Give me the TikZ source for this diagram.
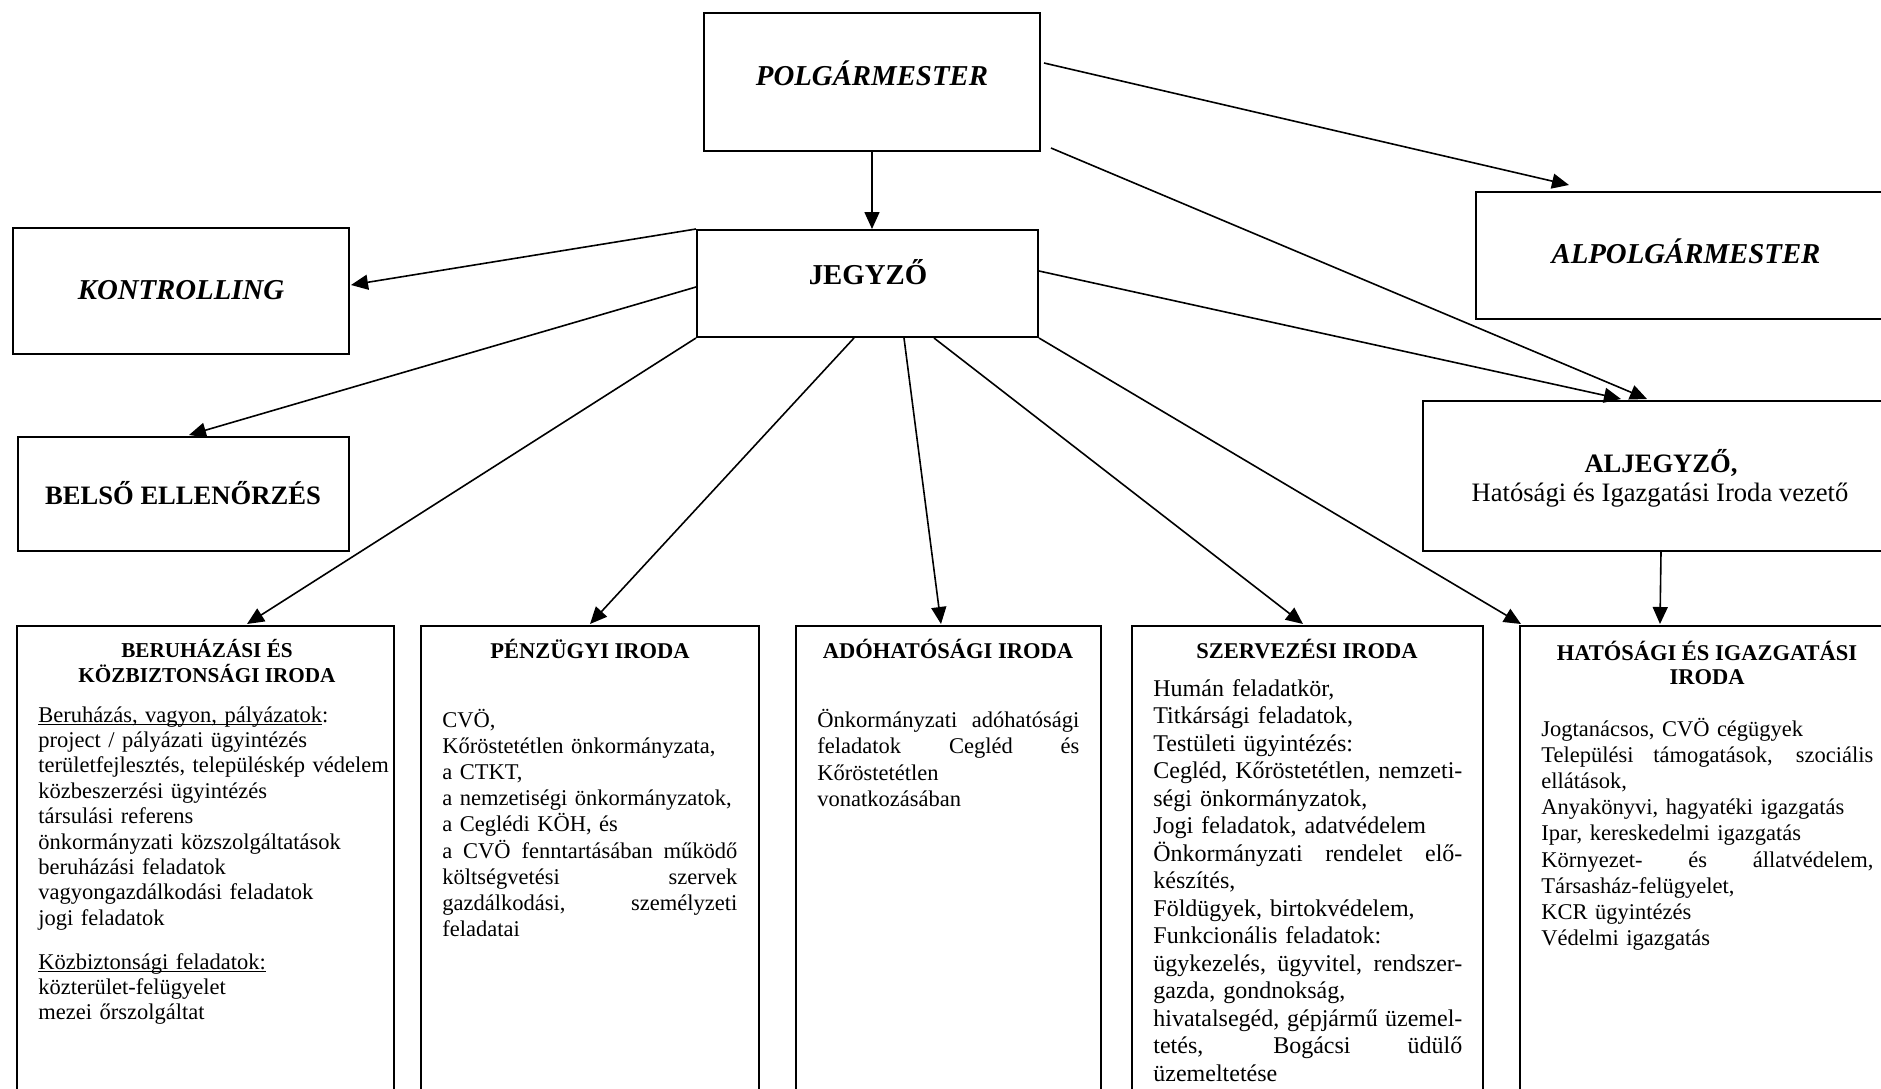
\documentclass[tikz,border=0pt]{standalone}
\usepackage{fontspec}
\setmainfont{Liberation Serif}
\usetikzlibrary{arrows.meta}
\newcommand\jline[2]{\leavevmode\hbox to #1{\spaceskip=0.25em plus 1fil\relax #2}}
\newcommand\myul[1]{\leavevmode\setbox0=\hbox{#1}\rlap{\rule[-1.4pt]{\wd0}{0.55pt}}\box0}
\begin{document}
\begin{tikzpicture}[x=0.5pt,y=-0.5pt,
  box/.style={draw, line width=1pt, inner sep=0pt},
  arr/.style={line width=0.8pt, -{Triangle[length=8.5pt,width=7.5pt]}},
  bigtitle/.style={anchor=base, inner sep=0pt, font=\fontsize{14.4pt}{16pt}\selectfont\bfseries\itshape},
  bigbold/.style={anchor=base, inner sep=0pt, font=\fontsize{14.4pt}{16pt}\selectfont\bfseries},
  midbold/.style={anchor=base, inner sep=0pt, font=\fontsize{13.3pt}{15pt}\selectfont\bfseries},
  midreg/.style={anchor=base, inner sep=0pt, font=\fontsize{13.3pt}{15pt}\selectfont},
  head/.style={anchor=base, inner sep=0pt, font=\fontsize{11.25pt}{13pt}\selectfont\bfseries},
  smallhead/.style={anchor=base, inner sep=0pt, font=\fontsize{10.6pt}{12pt}\selectfont\bfseries},
  body/.style={anchor=base west, inner sep=0pt, align=left}
]
\useasboundingbox (0,0) rectangle (1881,1088);
\fill[white] (0,0) rectangle (1881,1088);
\clip (0,0) rectangle (1881,1088);

% boxes
\node[box, minimum width=168pt, minimum height=69pt] (polg) at (872,82) {};
\node[box, minimum width=170.5pt, minimum height=53.5pt] (jegy) at (867.5,283.5) {};
\node[box, minimum width=168pt, minimum height=63pt] (kontr) at (181,291) {};
\node[box, minimum width=165.5pt, minimum height=57pt] (bels) at (183.5,494) {};
\node[box, minimum width=209.5pt, minimum height=63.5pt] (alpolg) at (1685.5,255.5) {};
\node[box, minimum width=236pt, minimum height=75pt] (aljegy) at (1659,476) {};
\node[box, minimum width=188.5pt, minimum height=237pt] (b1) at (205.5,863) {};
\node[box, minimum width=169pt, minimum height=237pt] (b2) at (590,863) {};
\node[box, minimum width=152.5pt, minimum height=237pt] (b3) at (948.5,863) {};
\node[box, minimum width=175.5pt, minimum height=237pt] (b4) at (1307.5,863) {};
\node[box, minimum width=187.5pt, minimum height=237pt] (b5) at (1707.5,863) {};

% top texts
\node[bigtitle] (tpolg) at (872,85) {POLGÁRMESTER};
\node[bigbold] (tjegy) at (868,284) {JEGYZŐ};
\node[bigtitle] (tkontr) at (181,299) {KONTROLLING};
\node[midbold] (tbels) at (183,504) {BELSŐ ELLENŐRZÉS};
\node[bigtitle] (talpolg) at (1686,263) {ALPOLGÁRMESTER};
\node[midbold] (taljegy) at (1661,472) {ALJEGYZŐ,};
\node[midreg] (taljegy2) at (1660,501) {Hatósági és Igazgatási Iroda vezető};

% bottom headings
\node[smallhead] (h1a) at (207,657) {BERUHÁZÁSI ÉS};
\node[smallhead] (h1b) at (207,682) {KÖZBIZTONSÁGI IRODA};
\node[head] (h2) at (590,658) {PÉNZÜGYI IRODA};
\node[head] (h3) at (948,658) {ADÓHATÓSÁGI IRODA};
\node[head] (h4) at (1307,658) {SZERVEZÉSI IRODA};
\node[head] (h5a) at (1707,660) {HATÓSÁGI ÉS IGAZGATÁSI};
\node[head] (h5b) at (1707,684) {IRODA};

% bodies
\node[body, text width=180pt, font=\fontsize{11.25pt}{12.7pt}\selectfont] (t1a) at (38,722) {%
\myul{Beruházás, vagyon, pályázatok}:\\
project / pályázati ügyintézés\\
területfejlesztés, településkép védelem\\
közbeszerzési ügyintézés\\
társulási referens\\
önkormányzati közszolgáltatások\\
beruházási feladatok\\
vagyongazdálkodási feladatok\\
jogi feladatok};
\node[body, text width=180pt, font=\fontsize{11.25pt}{12.5pt}\selectfont] (t1b) at (38,969) {%
\myul{Közbiztonsági feladatok:}\\
közterület-felügyelet\\
mezei őrszolgáltat};
\node[body, text width=147.5pt, font=\fontsize{11.25pt}{13.1pt}\selectfont] (t2) at (442,727) {%
CVÖ,\\
Kőröstetétlen önkormányzata,\\
a CTKT,\\
a nemzetiségi önkormányzatok,\\
a Ceglédi KÖH, és\\
\jline{147.5pt}{a CVÖ fenntartásában működő}\\
\jline{147.5pt}{költségvetési szervek}\\
\jline{147.5pt}{gazdálkodási, személyzeti}\\
feladatai};
\node[body, text width=131pt, font=\fontsize{11.25pt}{13.3pt}\selectfont] (t3) at (817,727) {%
\jline{131pt}{Önkormányzati adóhatósági}\\
\jline{131pt}{feladatok Cegléd és}\\
Kőröstetétlen\\
vonatkozásában};
\node[body, text width=154.5pt, font=\fontsize{12pt}{13.75pt}\selectfont] (t4) at (1153,696) {%
Humán feladatkör,\\
Titkársági feladatok,\\
Testületi ügyintézés:\\
\jline{154.5pt}{Cegléd, Kőröstetétlen, nemzeti-}\\
ségi önkormányzatok,\\
Jogi feladatok, adatvédelem\\
\jline{154.5pt}{Önkormányzati rendelet elő-}\\
készítés,\\
Földügyek, birtokvédelem,\\
Funkcionális feladatok:\\
\jline{154.5pt}{ügykezelés, ügyvitel, rendszer-}\\
gazda, gondnokság,\\
\jline{154.5pt}{hivatalsegéd, gépjármű üzemel-}\\
\jline{154.5pt}{tetés, Bogácsi üdülő}\\
üzemeltetése};
\node[body, text width=166pt, font=\fontsize{11.25pt}{13.1pt}\selectfont] (t5) at (1541,736) {%
Jogtanácsos, CVÖ cégügyek\\
\jline{166pt}{Települési támogatások, szociális}\\
ellátások,\\
Anyakönyvi, hagyatéki igazgatás\\
Ipar, kereskedelmi igazgatás\\
\jline{166pt}{Környezet- és állatvédelem,}\\
Társasház-felügyelet,\\
KCR ügyintézés\\
Védelmi igazgatás};

% connectors
\draw[arr] (polg.south) -- (polg.south |- jegy.north);
\draw[arr] ([shift={(3,51)}]polg.north east) -- ([shift={(94,-6)}]alpolg.north west);
\draw[arr] ([shift={(10,-4)}]polg.south east) -- ([shift={(225,-1)}]aljegy.north west);
\draw[arr] ([shift={(0,-12.5)}]jegy.east) -- ([shift={(199,-1)}]aljegy.north west);
\draw[arr] (jegy.north west) -- ([shift={(1,-6)}]kontr.east);
\draw[arr] ([shift={(0,3.5)}]jegy.west) -- ([shift={(5.5,-1)}]bels.north);
\draw[arr] (jegy.south west) -- ([shift={(41.5,-1)}]b1.north);
\draw[arr] ([shift={(-13.5,0)}]jegy.south) -- ([shift={(0,-1)}]b2.north);
\draw[arr] ([shift={(36.5,0)}]jegy.south) -- ([shift={(-7.5,-1)}]b3.north);
\draw[arr] ([shift={(66.5,0)}]jegy.south) -- ([shift={(-4.5,-1)}]b4.north);
\draw[arr] (jegy.south east) -- ([shift={(2,-1)}]b5.north west);
\draw[arr] ([shift={(2,0)}]aljegy.south) -- ([shift={(141,-1)}]b5.north west);
\end{tikzpicture}
\end{document}
